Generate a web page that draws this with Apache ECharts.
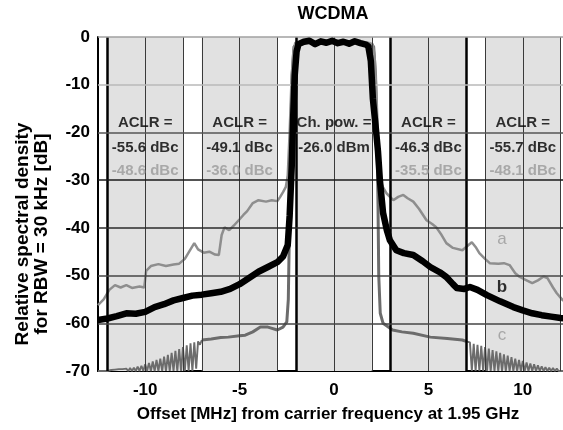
<!DOCTYPE html>
<html>
<head>
<meta charset="utf-8">
<script src="https://cdn.jsdelivr.net/npm/echarts@6/dist/echarts.min.js"></script>
<style>html,body{margin:0;padding:0;background:#fff}#c{width:563px;height:430px}</style>
</head>
<body>
<div id="c"></div>
<script>
// ---------- data ----------
const bands = [[-12,-8],[-7,-3],[-2,2],[3,7],[8,12]];
const vThin = [-10,-8,-7,-5,-3,0,2,5,8,10,12];
const vThick = [-12,-2,3,7];
const hLines = [-60,-50,-40,-30,-20,-10,0];

const aX = [-12.5,-12.2,-11.9,-11.6,-11.3,-11.0,-10.7,-10.3,-10.05,-9.95,-9.7,-9.3,-8.9,-8.5,-8.2,-7.9,-7.6,-7.4,-7.2,-6.9,-6.6,-6.3,-6.1,-5.95,-5.8,-5.55,-5.3,-5.0,-4.8,-4.6,-4.3,-4.0,-3.6,-3.3,-3.0,-2.85,-2.7,-2.55,-2.45,-2.35,-2.25,-2.15,-2.05,-1.8,-1.2,-0.6,0,0.6,1.2,1.8,2.05,2.15,2.25,2.35,2.43,2.6,2.79,3.14,3.4,3.67,3.9,4.2,4.5,4.9,5.2,5.4,5.7,5.95,6.3,6.8,7.0,7.3,7.5,7.7,8.0,8.25,8.7,9.0,9.3,9.6,9.84,10.2,10.5,10.8,11.1,11.3,11.6,11.8,12.1,12.5];
const aY = [-56.2,-55.0,-53.0,-52.0,-52.5,-52.0,-52.6,-52.3,-52.5,-49.0,-48.0,-47.6,-48.0,-47.7,-47.5,-46.5,-44.5,-43.2,-44.5,-45.2,-45.0,-45.6,-45.7,-41.5,-39.9,-40.5,-39.5,-38.2,-37.3,-36.5,-34.8,-34.2,-34.5,-34.2,-34.4,-33.5,-32.5,-31.4,-29,-20,-9,-3,-1.2,-1.0,-1.3,-1.0,-1.2,-1.1,-1.3,-1.2,-1.5,-4,-12,-24,-30,-31.5,-32.8,-34.2,-33.5,-33.1,-33.8,-34.5,-36,-38.4,-39.2,-39.8,-41.5,-43.2,-44.2,-44.7,-44.0,-43.0,-44.0,-45.3,-46.5,-47.4,-47.5,-47.4,-47.8,-49.5,-50.3,-51.0,-51.6,-51.0,-50.2,-50.5,-52.5,-53.7,-55.1,-56.0];

const bX = [-12.5,-12.0,-11.5,-11.0,-10.5,-10.0,-9.5,-9.0,-8.5,-8.0,-7.5,-7.0,-6.5,-6.0,-5.5,-5.0,-4.5,-4.0,-3.5,-3.0,-2.7,-2.45,-2.35,-2.24,-2.17,-2.08,-1.98,-1.88,-1.6,-1.3,-1.0,-0.7,-0.4,-0.1,0.2,0.5,0.8,1.1,1.4,1.7,1.82,1.95,2.06,2.2,2.33,2.43,2.6,2.8,2.96,3.3,3.7,4.2,4.7,5.1,5.6,5.95,6.3,6.5,6.9,7.2,7.6,8.1,8.8,9.5,10.0,10.5,11.0,11.5,12.0,12.5];
const bY = [-59.3,-59.0,-58.5,-57.9,-58.0,-57.6,-56.6,-56.0,-55.2,-54.7,-54.2,-54.0,-53.7,-53.4,-52.8,-51.8,-50.5,-49.2,-48.2,-47.2,-46.0,-43.6,-37.5,-27.2,-17.5,-8,-3,-1.5,-1.0,-0.8,-1.5,-0.9,-1.2,-0.8,-1.3,-1.0,-1.4,-0.9,-1.3,-1.6,-2.0,-5,-13,-18.5,-24,-30,-36.9,-40.5,-42.6,-44.7,-45.3,-45.7,-47.0,-48.2,-49.3,-50.3,-51.8,-52.6,-52.8,-52.4,-53.0,-54.1,-55.4,-56.6,-57.3,-57.9,-58.3,-58.6,-58.9,-59.0];

const cX = [-7.0,-6.5,-6.0,-5.6,-5.0,-4.7,-4.3,-3.9,-3.5,-3.0,-2.7,-2.5,-2.42,-2.36,-2.3,-2.22,-2.12,-1.5,-0.5,0.5,1.5,2.1,2.2,2.28,2.33,2.37,2.45,2.6,3.1,3.6,4.2,5.1,6.0,6.8,7.0];
const cY = [-63.5,-63.3,-63.0,-62.9,-62.6,-62.5,-61.8,-60.8,-60.8,-61.4,-60.8,-59.7,-55,-40,-22,-8,-2,-1.2,-1.0,-1.1,-1.2,-2,-8,-20,-35,-50,-57.9,-60.0,-61.4,-61.8,-62.1,-62.9,-63.2,-63.5,-63.8];

const combLX = [-12.5,-12.0,-11.9,-11.8,-11.7,-11.6,-11.5,-11.4,-11.3,-11.2,-11.1,-11.0,-10.9,-10.8,-10.7,-10.6,-10.5,-10.4,-10.3,-10.2,-10.1,-10.0,-9.9,-9.8,-9.7,-9.6,-9.5,-9.4,-9.3,-9.2,-9.1,-9.0,-8.9,-8.8,-8.7,-8.6,-8.5,-8.4,-8.3,-8.2,-8.1,-8.0,-7.9,-7.8,-7.7,-7.6,-7.5,-7.4,-7.3,-7.2,-7.1,-7.0];
const combLY = [-70,-70,-70,-69.8,-70,-69.7,-70,-69.6,-70,-69.6,-70,-69.5,-70,-69.4,-70,-69.3,-70,-69.1,-70,-68.9,-70,-68.6,-70,-68.3,-70,-68.0,-70,-67.7,-70,-67.4,-70,-67.0,-70,-66.6,-70,-66.2,-70,-65.8,-70,-65.4,-70,-65.0,-70,-64.6,-70,-64.2,-70,-64.0,-69.5,-63.8,-64.5,-63.5];
const combRX = [7.0,7.1,7.2,7.3,7.4,7.5,7.6,7.7,7.8,7.9,8.0,8.1,8.2,8.3,8.4,8.5,8.6,8.7,8.8,8.9,9.0,9.1,9.2,9.3,9.4,9.5,9.6,9.7,9.8,9.9,10.0,10.1,10.2,10.3,10.4,10.5,10.6,10.7,10.8,10.9,11.0,11.1,11.2,11.3,11.4,11.5,11.6,11.7,11.8,11.9,12.0,12.1,12.2,12.3,12.4,12.5];
const combRY = [-63.8,-64.2,-64.0,-70,-64.3,-70,-64.5,-70,-64.7,-70,-65.0,-70,-65.3,-70,-65.6,-70,-65.9,-70,-66.2,-70,-66.5,-70,-66.8,-70,-67.1,-70,-67.4,-70,-67.7,-70,-67.9,-70,-68.2,-70,-68.4,-70,-68.6,-70,-68.8,-70,-69.0,-70,-69.2,-70,-69.3,-70,-69.4,-70,-69.5,-70,-69.6,-70,-69.7,-70,-69.8,-70];

const noteX = [-10, -5, 0, 5, 10];
const noteHead = ['ACLR =', 'ACLR =', 'Ch. pow. =', 'ACLR =', 'ACLR ='];
const noteB = ['-55.6 dBc', '-49.1 dBc', '-26.0 dBm', '-46.3 dBc', '-55.7 dBc'];
const noteA = ['-48.6 dBc', '-36.0 dBc', '', '-35.5 dBc', '-48.1 dBc'];
const noteRowY = [-18.0, -23.3, -28.1];

const curveNames = ['a', 'b', 'c'];
const curveNameX = 8.9;
const curveNameY = [-42.4, -52.4, -62.5];

// ---------- build ----------
const zip = (xs, ys) => xs.map((x, i) => [x, ys[i]]);
const FONT = "'Liberation Sans', Arial, sans-serif";
const GRAY_A = '#8e8e8e', GRAY_C = '#6c6c6c';

const gridLines = [];
vThin.forEach(v => gridLines.push({xAxis: v, lineStyle: {color: '#3a3a3a', width: 1, type: 'solid'}}));
vThick.forEach(v => gridLines.push({xAxis: v, lineStyle: {color: '#000', width: 2.5, type: 'solid'}}));
const hColors = ['#444', '#444', '#2a2a2a', '#1a1a1a', '#555', '#b8b8b8', '#a0a0a0'];
hLines.forEach((v, i) => gridLines.push({yAxis: v, lineStyle: {color: hColors[i], width: 1.5, type: 'solid'}}));

const textData = (rowY, texts) => noteX.map((x, i) => [x, rowY, texts[i]]).filter(d => d[2] !== '');
const nameData = curveNames.map((n, i) => [curveNameX, curveNameY[i], n]);

function textSeries(data, color, weight, size) {
  return {
    type: 'scatter', z: 10, silent: true, symbolSize: 1,
    itemStyle: {color: 'rgba(0,0,0,0)'},
    data: data,
    label: {show: true, position: 'inside', formatter: p => p.value[2],
      color: color, fontFamily: FONT, fontWeight: weight, fontSize: size,
      align: 'center', verticalAlign: 'middle'}
  };
}

const chart = echarts.init(document.getElementById('c'), null, {renderer: 'canvas'});
chart.setOption({
  animation: false,
  backgroundColor: '#fff',
  grid: {left: 98, right: -7, top: 37, bottom: 59, containLabel: false, outerBoundsMode: 'none'},
  xAxis: {
    type: 'value', min: -12.5, max: 12.5, interval: 2.5,
    axisLine: {show: true, onZero: false, lineStyle: {color: '#000', width: 2}},
    axisTick: {show: false}, splitLine: {show: false},
    axisLabel: {formatter: v => (v % 5 === 0 ? String(v) : ''), color: '#000', fontFamily: FONT,
      fontWeight: 'bold', fontSize: 17, margin: 11}
  },
  yAxis: {
    type: 'value', min: -70, max: 0, interval: 10,
    axisLine: {show: true, onZero: false, lineStyle: {color: '#000', width: 2}},
    axisTick: {show: false}, splitLine: {show: false},
    axisLabel: {color: '#000', fontFamily: FONT, fontWeight: 'bold', fontSize: 17, margin: 8}
  },
  graphic: [
    {type: 'text', x: 333, y: 14, style: {text: 'WCDMA', font: "bold 18px " + FONT, fill: '#000', align: 'center', verticalAlign: 'middle'}},
    {type: 'text', x: 328, y: 414, style: {text: 'Offset [MHz] from carrier frequency at 1.95 GHz', font: "bold 17px " + FONT, fill: '#000', align: 'center', verticalAlign: 'middle'}},
    {type: 'text', x: 32, y: 234, rotation: Math.PI / 2, style: {text: 'Relative spectral density\nfor RBW = 30 kHz [dB]', font: "bold 19px " + FONT, lineHeight: 19, fill: '#000', align: 'center', verticalAlign: 'middle'}}
  ],
  series: [
    {type: 'line', z: 1, silent: true, data: [], markArea: {silent: true, itemStyle: {color: '#e1e1e1'},
      data: bands.map(b => [{xAxis: b[0]}, {xAxis: b[1]}])}},
    {type: 'line', z: 2, silent: true, data: [], markLine: {silent: true, symbol: ['none', 'none'], label: {show: false},
      animation: false, data: gridLines}},
    {type: 'line', z: 3, data: zip(combLX, combLY), showSymbol: false, lineStyle: {color: GRAY_C, width: 1.9}},
    {type: 'line', z: 3, data: zip(combRX, combRY), showSymbol: false, lineStyle: {color: GRAY_C, width: 1.9}},
    {type: 'line', z: 3, data: zip(cX, cY), showSymbol: false, lineStyle: {color: GRAY_C, width: 3}},
    {type: 'line', z: 4, data: zip(aX, aY), showSymbol: false, lineStyle: {color: GRAY_A, width: 2.5}},
    {type: 'line', z: 5, data: zip(bX, bY), showSymbol: false, lineStyle: {color: '#000', width: 6.5, join: 'round'}},
    textSeries(textData(noteRowY[0], noteHead), '#000', 'bold', 15),
    textSeries(textData(noteRowY[1], noteB), '#000', 'bold', 15),
    textSeries(textData(noteRowY[2], noteA), '#9a9a9a', 'bold', 15),
    textSeries(nameData.slice(0, 1), '#999', 'normal', 17),
    textSeries(nameData.slice(1, 2), '#000', 'bold', 17),
    textSeries(nameData.slice(2, 3), '#999', 'normal', 17)
  ]
});
</script>
</body>
</html>
